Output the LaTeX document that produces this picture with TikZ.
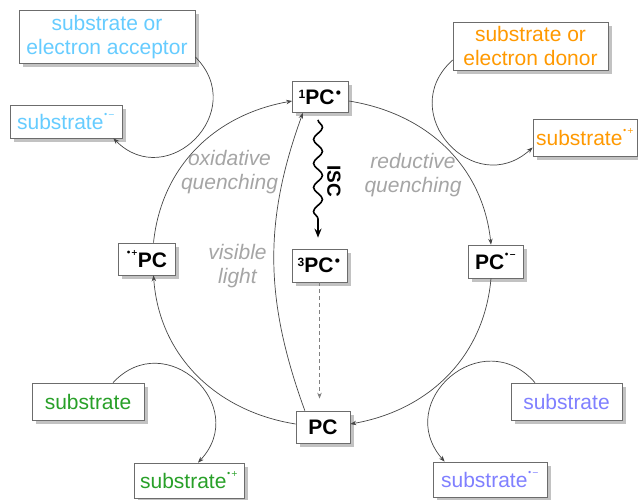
\documentclass[tikz,border=0pt]{standalone}
\usepackage{fontspec}
\setmainfont{Liberation Sans}
\newfontfamily\symf{DejaVu Sans}
\usetikzlibrary{shadows,arrows.meta,decorations.pathmorphing,calc}
\definecolor{accblue}{RGB}{102,204,255}
\definecolor{donorange}{RGB}{255,153,0}
\definecolor{subgreen}{RGB}{40,160,40}
\definecolor{sublav}{RGB}{128,128,255}
\definecolor{lblgray}{RGB}{165,165,165}
\definecolor{linegray}{RGB}{70,70,70}
\newcommand\radsup[1]{\raisebox{12pt}{\symf\fontsize{8}{8}\selectfont #1}}
\newcommand\bsup[1]{\raisebox{6pt}{\fontsize{12}{12}\selectfont\bfseries #1}}
\newcommand\bdot{\raisebox{7pt}{\symf\fontsize{12}{12}\selectfont •}}
\begin{document}
\begin{tikzpicture}[x=1pt,y=1pt,
  box/.style={draw=gray!85!black, line width=0.7pt, fill=white,
    drop shadow={shadow xshift=3.5pt, shadow yshift=-3.5pt, fill=black!40, opacity=0.6},
    inner sep=1pt, align=center, font=\fontsize{21}{24}\selectfont},
  pcbox/.style={box, text=black, font=\fontsize{21}{24}\selectfont\bfseries},
  conn/.style={draw=linegray, line width=0.7pt, -{Stealth[length=6pt,width=4.5pt]}},
  lbl/.style={text=lblgray, font=\fontsize{21}{24}\selectfont\itshape, align=center}]
\useasboundingbox (0,0) rectangle (638,-499);

% substrate boxes
\node[box, text=accblue, minimum width=176pt, minimum height=53pt] (acc) at (107,-37) {substrate or\\electron acceptor};
\node[box, text=accblue, minimum width=112pt, minimum height=33pt] (accm) at (66,-121.5) {substrate\radsup{•−}};
\node[box, text=donorange, minimum width=155pt, minimum height=48pt] (don) at (530.5,-46) {substrate or\\electron donor};
\node[box, text=donorange, minimum width=104pt, minimum height=37pt] (donp) at (585,-137.5) {substrate\radsup{•+}};
\node[box, text=subgreen, minimum width=112pt, minimum height=37pt] (gsub) at (88,-401.5) {substrate};
\node[box, text=subgreen, minimum width=110pt, minimum height=35pt] (gsubp) at (189,-480.5) {substrate\radsup{•+}};
\node[box, text=sublav, minimum width=111pt, minimum height=37pt] (lsub) at (566.5,-401.5) {substrate};
\node[box, text=sublav, minimum width=114pt, minimum height=35pt] (lsubm) at (490,-479.5) {substrate\radsup{•−}};

% PC boxes
\node[pcbox, minimum width=56pt, minimum height=31pt] (pcs) at (320.5,-97) {\bsup{1}PC\bdot};
\node[pcbox, minimum width=55pt, minimum height=33pt] (pct) at (319.5,-265.5) {\bsup{3}PC\bdot};
\node[pcbox, minimum width=57pt, minimum height=32pt] (pcl) at (146.5,-259) {\radsup{•+}PC};
\node[pcbox, minimum width=55pt, minimum height=33pt] (pcr) at (495.5,-261.5) {PC\radsup{•−}};
\node[pcbox, minimum width=54pt, minimum height=32pt] (pc) at (323,-427) {PC};

% labels
\node[lbl] (ox) at (229.5,-172) {oxidative\\quenching};
\node[lbl] (red) at (413,-175) {reductive\\quenching};
\node[lbl] (vis) at (237.5,-266) {visible\\light};
\node[font=\fontsize{19}{19}\selectfont\bfseries, rotate=-90] (isc) at (334,-181) {ISC};

% main cycle
\draw[conn] ([xshift=7pt]pcl.north) to[out=84,in=190] ([yshift=-4pt]pcs.west);
\draw[conn] ([yshift=-4pt]pcs.east) to[out=-9,in=96] ([xshift=-4.5pt]pcr.north);
\draw[conn] ([xshift=-4.5pt]pcr.south) to[out=-95,in=10] ([yshift=3pt]pc.east);
\draw[conn] ([yshift=3pt]pc.west) to[out=171,in=-86] ([xshift=7pt]pcl.south);

% visible light
\draw[conn] (pc.138) to[out=110,in=-110] (pcs.-138);

% ISC
\draw[line width=1.6pt, decorate,
  decoration={snake, amplitude=4.5pt, segment length=24pt, post length=8pt},
  -{Stealth[length=9pt,width=7pt]}]
  ([xshift=-2.5pt,yshift=-7pt]pcs.south) -- ([xshift=-1.5pt,yshift=11pt]pct.north);

% dashed
\draw[conn, dash pattern=on 4pt off 3pt, draw=gray] (pct.south) -- ([yshift=12pt]pct.south |- pc.north);

% side loops
\draw[conn] ([yshift=-20pt]acc.east) to[out=-45,in=-45,looseness=1.7] ([xshift=-9pt]accm.south east);
\draw[conn] ([yshift=-14pt]don.west) to[out=-138,in=-138,looseness=1.7] ([yshift=-10pt]donp.west);
\draw[conn] ([xshift=25pt]gsub.north) to[out=47,in=47,looseness=1.7] ([xshift=9pt]gsubp.north);
\draw[conn] ([xshift=-31.5pt]lsub.north) to[out=131,in=131,looseness=1.7] ([xshift=12pt]lsubm.north west);
\end{tikzpicture}
\end{document}
